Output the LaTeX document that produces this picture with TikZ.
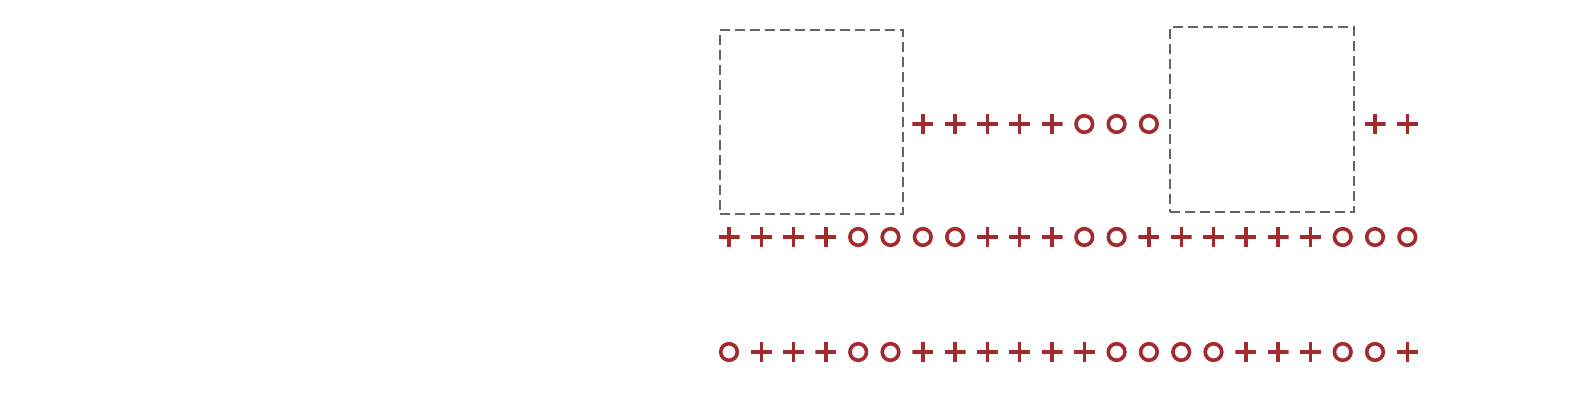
\documentclass[tikz,border=0pt]{standalone}
\definecolor{markred}{RGB}{165,42,46}
\definecolor{boxgray}{RGB}{100,100,100}
\tikzset{
  symp/.style={rectangle, minimum width=21pt, minimum height=20pt, inner sep=0pt,
    path picture={\draw[markred, line width=3.4pt]
      (path picture bounding box.west) -- (path picture bounding box.east)
      (path picture bounding box.north) -- (path picture bounding box.south);}},
  symo/.style={circle, draw=markred, line width=3.6pt, minimum size=16.6pt, inner sep=0pt},
  dashbox/.style={rectangle, draw=boxgray, line width=1.2pt, dash pattern=on 10pt off 5pt, inner sep=0pt}
}
\begin{document}
\begin{tikzpicture}[x=1pt,y=-1pt]
\useasboundingbox[fill=white] (0,0) rectangle (1595,409);
% dashed boxes
\node[dashbox, minimum width=183pt, minimum height=184pt] (boxA) at (811.5,122) {};
\node[dashbox, minimum width=184pt, minimum height=185pt] (boxB) at (1262,119.5) {};
% row 1 (between and after the boxes)
\foreach \s [count=\i from 6] in {p,p,p,p,p,o,o,o} {
  \node[sym\s] (r1c\i) at ({729+32.3*\i},124) {};
}
\foreach \s [count=\i from 20] in {p,p} {
  \node[sym\s] (r1c\i) at ({729+32.3*\i},124) {};
}
% row 2
\foreach \s [count=\i from 0] in {p,p,p,p,o,o,o,o,p,p,p,o,o,p,p,p,p,p,p,o,o,o} {
  \node[sym\s] (r2c\i) at ({729+32.3*\i},237) {};
}
% row 3
\foreach \s [count=\i from 0] in {o,p,p,p,o,o,p,p,p,p,p,p,o,o,o,o,p,p,p,o,o,p} {
  \node[sym\s] (r3c\i) at ({729+32.3*\i},352) {};
}
\end{tikzpicture}
\end{document}
